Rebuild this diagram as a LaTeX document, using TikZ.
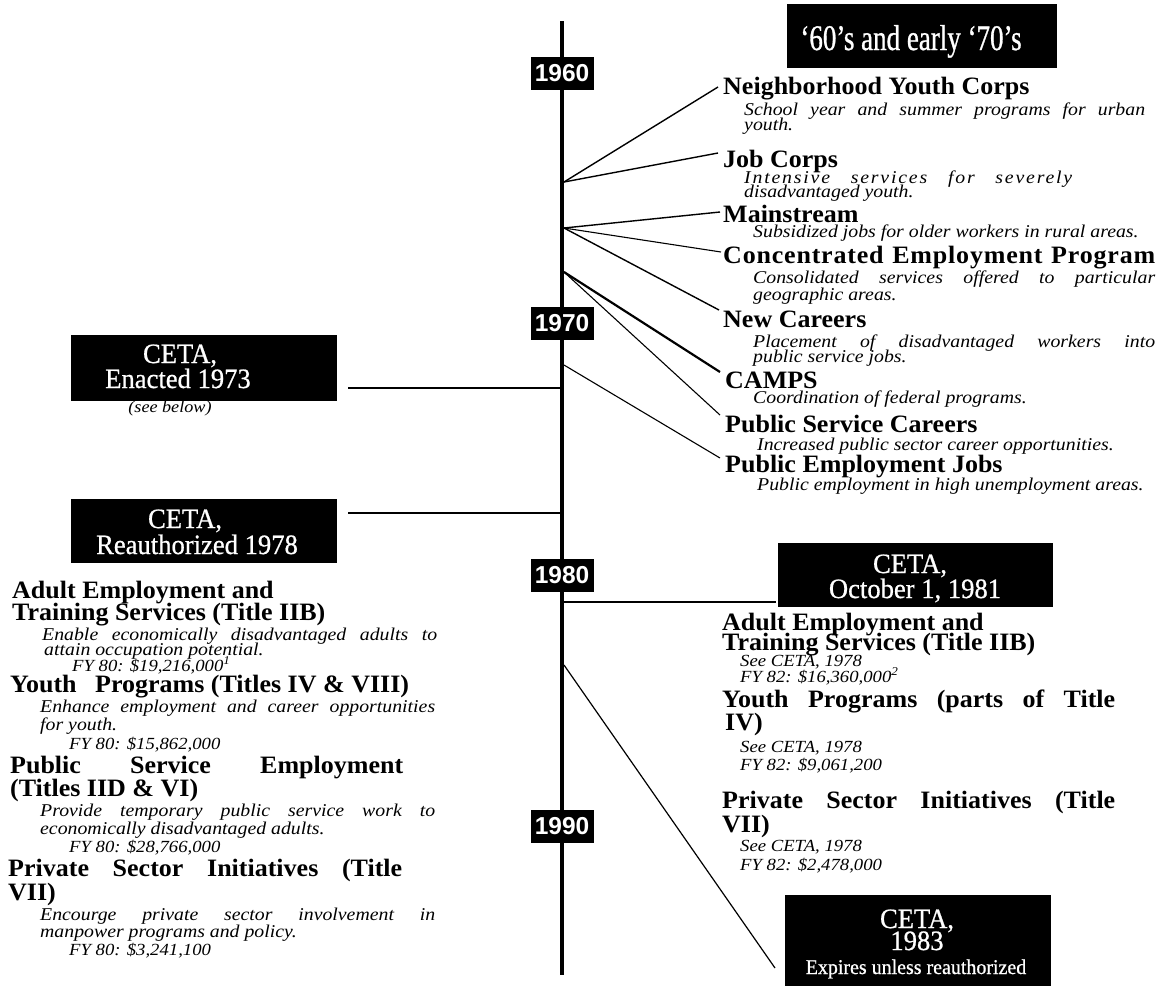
\documentclass[tikz,border=0pt]{standalone}
\usepackage{fontspec}
\setmainfont{Liberation Serif}
\newfontfamily\yrfont{Liberation Sans}
\newfontfamily\condfont[FakeStretch=0.75,FakeBold=0.8]{Liberation Serif}
\newfontfamily\boxfont[FakeStretch=0.95,FakeBold=0.7]{Liberation Serif}
\newfontfamily\hdfont[FakeStretch=1.04]{Liberation Serif}
\newfontfamily\lsbf[LetterSpace=3.2,FakeStretch=1.04]{Liberation Serif}
\newfontfamily\itfont[FakeStretch=1.1]{Liberation Serif}
\newfontfamily\lsit[LetterSpace=10,FakeStretch=1.1]{Liberation Serif}
\newcommand\jl[2]{\makebox[#1pt][s]{#2}}
\tikzset{
  hd/.style={anchor=base west, inner sep=0, font=\hdfont\fontsize{25}{30}\selectfont\bfseries},
  ds/.style={anchor=base west, inner sep=0, font=\itfont\fontsize{18}{22}\selectfont\itshape},
  fy/.style={anchor=base west, inner sep=0, font=\itfont\fontsize{17}{20}\selectfont\itshape},
  yrbox/.style={fill=black, text=white, inner sep=0, minimum width=63, minimum height=33,
    font=\yrfont\bfseries\fontsize{24.5}{26}\selectfont},
  tbox/.style={fill=black, inner sep=0},
  ttxt/.style={text=white, anchor=base, inner sep=0, font=\boxfont\fontsize{28}{30}\selectfont},
  conn/.style={line width=1.4},
}
\begin{document}
\begin{tikzpicture}[x=1pt,y=-1pt]
\useasboundingbox (0,0) rectangle (1164,986);
\fill[white] (0,0) rectangle (1164,986);

% timeline
\coordinate (tt) at (562,21);
\coordinate (tb) at (562,975);
\draw[line width=4.2] (tt) -- (tb);
\node[yrbox] (y60) at (562,73.5) {1960};
\node[yrbox] (y70) at (562,323) {1970};
\node[yrbox] (y80) at (562,575) {1980};
\node[yrbox] (y90) at (562,826) {1990};

% header box
\node[tbox, minimum width=270, minimum height=64] (hdr) at (922,36) {};
\node[ttxt, font=\condfont\fontsize{36}{40}\selectfont] (hdrt) at (911,50) {‘60’s and early ‘70’s};

% right column, 60s and early 70s
\node[hd] (nyc) at (723,94) {Neighborhood Youth Corps};
\node[ds] (nycd1) at (744,115) {\jl{401}{School year and summer programs for urban}};
\node[ds] (nycd2) at (744,130) {youth.};
\node[hd] (jc) at (723,167) {Job Corps};
\node[ds] (jcd1) at (744,183) {\lsit\jl{328}{Intensive services for severely}};
\node[ds] (jcd2) at (744,197) {disadvantaged youth.};
\node[hd] (ms) at (723,222) {Mainstream};
\node[ds] (msd) at (753,237) {Subsidized jobs for older workers in rural areas.};
\node[hd] (cep) at (723,263) {\lsbf\jl{432}{Concentrated Employment Program}};
\node[ds] (cepd1) at (753,283) {\jl{402}{Consolidated services offered to particular}};
\node[ds] (cepd2) at (753,300) {geographic areas.};
\node[hd] (nc) at (723,327) {New Careers};
\node[ds] (ncd1) at (753,347) {\jl{402}{Placement of disadvantaged workers into}};
\node[ds] (ncd2) at (753,362) {public service jobs.};
\node[hd] (camps) at (725,388) {CAMPS};
\node[ds] (campsd) at (753,403) {Coordination of federal programs.};
\node[hd] (psc) at (725,432) {Public Service Careers};
\node[ds] (pscd) at (757,450) {Increased public sector career opportunities.};
\node[hd] (pej) at (725,472) {Public Employment Jobs};
\node[ds] (pejd) at (757,490) {Public employment in high unemployment areas.};

% connectors right top
\coordinate (s1) at (564,182);
\coordinate (s2) at (564,228);
\coordinate (s3) at (564,272);
\coordinate (s4) at (564,365);
\draw[conn] (s1) -- ([shift={(-5,-7)}]nyc.base west);
\draw[conn] (s1) -- ([shift={(-5,-14)}]jc.base west);
\draw[conn] (s2) -- ([shift={(-3,-10)}]ms.base west);
\draw[line width=1.1] (s2) -- ([shift={(-2,-11)}]cep.base west);
\draw[conn] (s2) -- ([shift={(-4,-17)}]nc.base west);
\draw[line width=2.2] (s3) -- ([shift={(-5,-16)}]camps.base west);
\draw[line width=1.1] (s3) -- ([shift={(-5,-17)}]psc.base west);
\draw[line width=1.1] (s4) -- ([shift={(-5,-14)}]pej.base west);

% CETA enacted
\node[tbox, minimum width=266, minimum height=66] (enb) at (204,368) {};
\node[ttxt] (ent1) at (180,363) {CETA,};
\node[ttxt] (ent2) at (178,388) {Enacted 1973};
\node[anchor=base, inner sep=0, font=\itfont\fontsize{16.5}{20}\selectfont\itshape] (see) at (170,412) {(see below)};
\coordinate (e1) at (348,388);
\coordinate (e2) at (560,388);
\draw[line width=1.6] (e1) -- (e2);

% CETA reauthorized
\node[tbox, minimum width=266, minimum height=64] (reb) at (204,531) {};
\node[ttxt] (ret1) at (185,528) {CETA,};
\node[ttxt] (ret2) at (197,554) {Reauthorized 1978};
\coordinate (r1) at (348,513);
\coordinate (r2) at (560,513);
\draw[line width=1.3] (r1) -- (r2);

% left column
\node[hd] (la1) at (12,598) {Adult Employment and};
\node[hd] (la2) at (12,620) {Training Services (Title IIB)};
\node[ds] (la3) at (42,640) {\jl{395}{Enable economically disadvantaged adults to}};
\node[ds] (la4) at (44,655) {attain occupation potential.};
\node[fy] (la5) at (72,671) {FY 80: \$19,216,000\textsuperscript{1}};
\node[hd] (ly1) at (10,692) {Youth\hspace{12pt} Programs (Titles IV \& VIII)};
\node[ds] (ly2) at (40,712) {\jl{395}{Enhance employment and career opportunities}};
\node[ds] (ly3) at (40,730) {for youth.};
\node[fy] (ly4) at (69,749) {FY 80: \$15,862,000};
\node[hd] (lp1) at (10,773) {\jl{393}{Public Service Employment}};
\node[hd] (lp2) at (10,796) {(Titles IID \& VI)};
\node[ds] (lp3) at (40,816) {\jl{395}{Provide temporary public service work to}};
\node[ds] (lp4) at (40,834) {economically disadvantaged adults.};
\node[fy] (lp5) at (69,852) {FY 80: \$28,766,000};
\node[hd] (ls1) at (8,876) {\jl{394}{Private Sector Initiatives (Title}};
\node[hd] (ls2) at (8,900) {VII)};
\node[ds] (ls3) at (40,920) {\jl{395}{Encourge private sector involvement in}};
\node[ds] (ls4) at (40,937) {manpower programs and policy.};
\node[fy] (ls5) at (69,955) {FY 80: \$3,241,100};

% CETA October 1, 1981
\node[tbox, minimum width=275, minimum height=64] (ocb) at (915.5,575) {};
\node[ttxt] (oct1) at (910,573) {CETA,};
\node[ttxt] (oct2) at (915,598) {October 1, 1981};
\coordinate (o1) at (564,602);
\coordinate (o2) at (776,602);
\draw[line width=1.3] (o1) -- (o2);

\node[hd] (ra1) at (722,630) {Adult Employment and};
\node[hd] (ra2) at (722,650) {Training Services (Title IIB)};
\node[fy] (ra3) at (740,666) {See CETA, 1978};
\node[fy] (ra4) at (740,682) {FY 82: \$16,360,000\textsuperscript{2}};
\node[hd] (ry1) at (722,707) {\jl{393}{Youth Programs (parts of Title}};
\node[hd] (ry2) at (725,730) {IV)};
\node[fy] (ry3) at (740,752) {See CETA, 1978};
\node[fy] (ry4) at (740,770) {FY 82: \$9,061,200};
\node[hd] (rp1) at (722,808) {\jl{393}{Private Sector Initiatives (Title}};
\node[hd] (rp2) at (722,832) {VII)};
\node[fy] (rp3) at (740,851) {See CETA, 1978};
\node[fy] (rp4) at (740,870) {FY 82: \$2,478,000};

% CETA 1983
\node[tbox, minimum width=266, minimum height=91] (xb) at (918,940.5) {};
\node[ttxt] (xt1) at (917,928) {CETA,};
\node[ttxt] (xt2) at (917,950) {1983};
\node[ttxt, font=\boxfont\fontsize{21}{24}\selectfont] (xt3) at (916,974) {Expires unless reauthorized};
\coordinate (x1) at (564,665);
\coordinate (x2) at (775,968);
\draw[line width=1.2] (x1) -- (x2);
\end{tikzpicture}
\end{document}
